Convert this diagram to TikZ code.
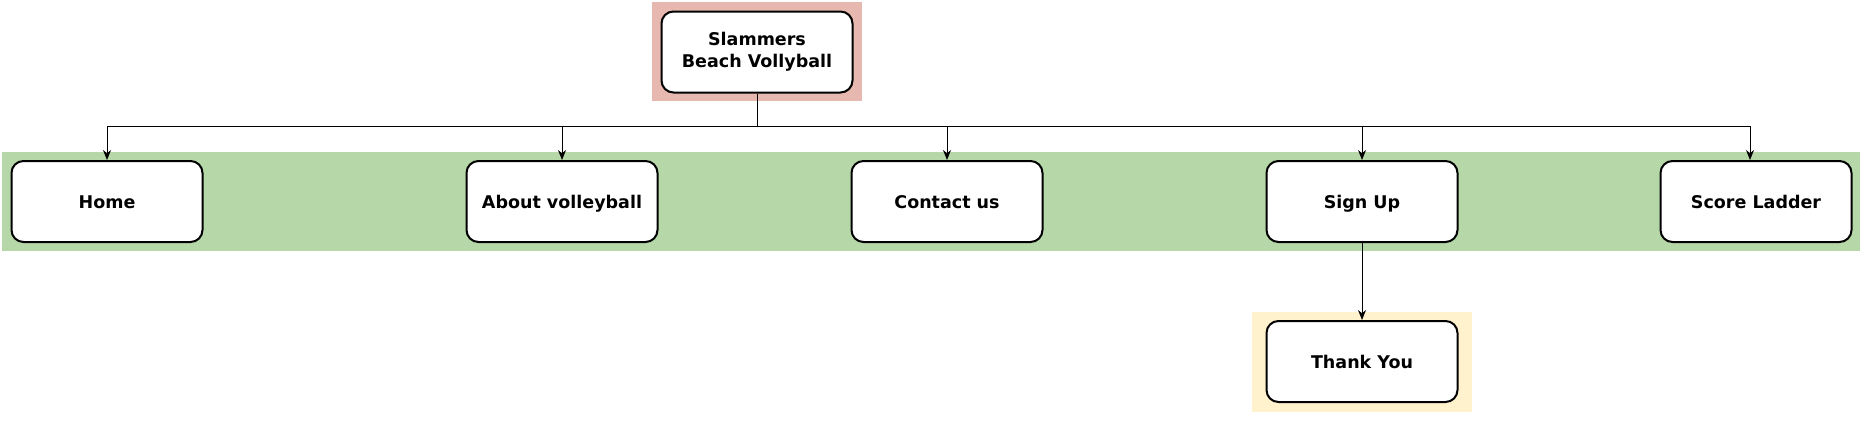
\documentclass[tikz,border=0pt]{standalone}
\usepackage{fontspec}
\setmainfont{DejaVu Sans}
\usetikzlibrary{arrows.meta}
\definecolor{rootbg}{HTML}{E6B8AF}
\definecolor{pagebg}{HTML}{B6D7A8}
\definecolor{thankbg}{HTML}{FFF2CC}
\tikzset{>={Stealth[length=10pt,width=8pt]}}
\tikzset{
  page/.style={draw, line width=2pt, fill=white, rounded corners=12pt,
    minimum width=191pt, minimum height=81pt, align=center,
    font=\bfseries\fontsize{17.5}{22}\selectfont},
  oneline/.style={page, text height=13pt, text depth=0pt},
  link/.style={->, line width=1pt}
}

\begin{document}
\begin{tikzpicture}[x=1pt, y=-1pt]

  \useasboundingbox (0,0) rectangle (1862,447);

  % Backgrounds
  \fill[rootbg]  (652,2)   rectangle (862,101);
  \fill[pagebg]  (2,152)   rectangle (1860,251);
  \fill[thankbg] (1252,312) rectangle (1472,412);

  % Nodes
  \node[page]    (root)    at (757,52)    {Slammers\\Beach Vollyball};
  \node[oneline] (home)    at (107,201.5) {Home};
  \node[oneline] (about)   at (562,201.5) {About volleyball};
  \node[oneline] (contact) at (947,201.5) {Contact us};
  \node[oneline] (signup)  at (1362,201.5) {Sign Up};
  \node[oneline] (score)   at (1756,201.5) {Score Ladder};
  \node[oneline] (thanks)  at (1362,361.5) {Thank You};
  \coordinate (bus) at (757,126);

  % Edges
  \draw[line width=1pt] (root.south) -- (bus);
  \foreach \p in {home,about,contact,signup} {
    \draw[link] (bus) -| (\p.north);
  }
  \draw[link] (bus) -| ([xshift=-6pt]score.north);
  \draw[link] (signup.south) -- (thanks.north);

\end{tikzpicture}
\end{document}
